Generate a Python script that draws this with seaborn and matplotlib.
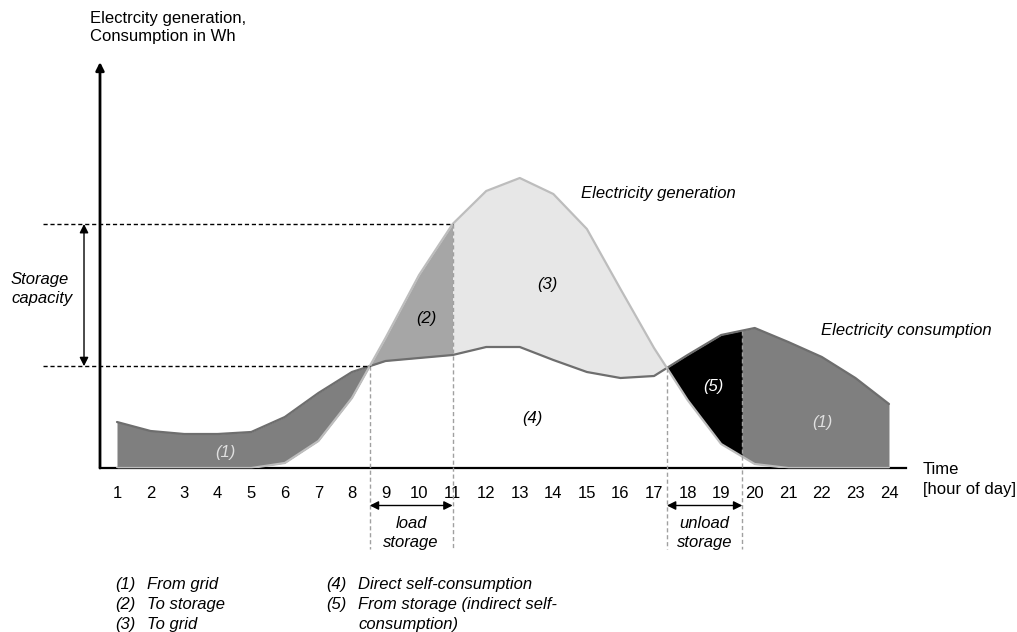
import numpy as np
import pandas as pd
import matplotlib
matplotlib.use("Agg")
import matplotlib.pyplot as plt
import seaborn as sns

# ---------------- data ----------------
hours = list(range(1, 25))
consumption = [4.6, 3.7, 3.4, 3.4, 3.6, 5.1, 7.5, 9.6, 10.7, 11.0, 11.3, 12.1,
               12.1, 10.8, 9.6, 9.0, 9.2, 11.3, 13.3, 14.0, 12.6, 11.1, 9.0, 6.4]
generation = [0, 0, 0, 0, 0, 0.5, 2.7, 7.0, 13.0, 19.3, 24.4, 27.7,
              29.0, 27.4, 23.9, 17.9, 12.0, 6.8, 2.4, 0.4, 0, 0, 0, 0]
load_end_hour = 11          # storage full
storage_empty_hour = 19.63  # storage empty
tick_labels = [str(h) for h in hours]
legend_left = [("(1)", "From grid"), ("(2)", "To storage"), ("(3)", "To grid")]
legend_right = [("(4)", "Direct self-consumption"),
                ("(5)", "From storage (indirect self-\nconsumption)")]

# ---------------- style ----------------
sns.set_theme(style="white")
plt.rcParams["font.family"] = ["Liberation Sans", "DejaVu Sans"]
plt.rcParams["text.color"] = "black"
FS = 12

W, H = 1017, 632
fig = plt.figure(figsize=(W / 100, H / 100), dpi=100)
ax = fig.add_axes([100 / W, (H - 468) / H, 806 / W, 406 / H])
ax.set_xlim(0.4935, 24.507)
ax.set_ylim(0, 40.6)

hrs = np.array(hours, dtype=float)
cons = np.array(consumption)
gen = np.array(generation)

# crossings of generation and consumption
d = gen - cons
cross = []
for i in range(len(hrs) - 1):
    if d[i] * d[i + 1] < 0:
        t = -d[i] / (d[i + 1] - d[i])
        cross.append(hrs[i] + t)
c1, c2 = cross[0], cross[1]


def seg(a, b):
    x = np.array([a] + [h for h in hrs if a < h < b] + [b])
    return x, np.interp(x, hrs, cons), np.interp(x, hrs, gen)


C_GRID = "#7f7f7f"
fills = [
    (1, c1, C_GRID),
    (c1, load_end_hour, "#a6a6a6"),
    (load_end_hour, c2, "#e7e7e7"),
    (c2, storage_empty_hour, "#000000"),
    (storage_empty_hour, 24, C_GRID),
]
for a, b, col in fills:
    x, yc, yg = seg(a, b)
    ax.fill_between(x, yc, yg, color=col, lw=0, zorder=1)

df = pd.DataFrame({
    "hour": hours * 2,
    "value": consumption + generation,
    "series": ["Consumption"] * 24 + ["Generation"] * 24,
})
sns.lineplot(data=df, x="hour", y="value", hue="series",
             palette={"Consumption": "#6e6e6e", "Generation": "#bdbdbd"},
             linewidth=1.6, legend=False, ax=ax, zorder=2)

# axes look
for s in ["top", "right", "left"]:
    ax.spines[s].set_visible(False)
ax.spines["bottom"].set_color("black")
ax.spines["bottom"].set_linewidth(1.6)
ax.spines["bottom"].set_zorder(0.5)
ax.set_xticks(hours)
ax.set_xticklabels(tick_labels, fontsize=FS, color="black")
ax.tick_params(axis="x", length=0, pad=13)
ax.set_yticks([])
ax.set_xlabel("")
ax.set_ylabel("")
ax.annotate("", xy=(0, 1.0), xytext=(0, 0), xycoords="axes fraction",
            textcoords="axes fraction",
            arrowprops=dict(arrowstyle="-|>", color="black", lw=2,
                            mutation_scale=12, shrinkA=0, shrinkB=0))

# vertical dashed helper lines
v_bottom = -8.1
cap_top = float(np.interp(load_end_hour, hrs, gen))
cap_bot = float(np.interp(c1, hrs, cons))
for xv, yt in [(c1, cap_bot), (load_end_hour, cap_top),
               (c2, float(np.interp(c2, hrs, cons))),
               (storage_empty_hour, float(np.interp(storage_empty_hour, hrs, cons)))]:
    ax.plot([xv, xv], [yt, v_bottom], color="#a0a0a0", lw=1,
            ls=(0, (3, 2)), clip_on=False, zorder=3)

# storage capacity lines
x_left = -1.2
ax.plot([x_left, load_end_hour], [cap_top, cap_top], color="black", lw=1,
        ls=(0, (3, 2)), clip_on=False, zorder=3)
ax.plot([x_left, c1], [cap_bot, cap_bot], color="black", lw=1,
        ls=(0, (3, 2)), clip_on=False, zorder=3)
ax.annotate("", xy=(0.017, cap_top), xytext=(0.017, cap_bot),
            arrowprops=dict(arrowstyle="<|-|>", color="black", lw=1,
                            mutation_scale=13, shrinkA=0, shrinkB=0),
            annotation_clip=False)
ax.text(-2.158, 17.9, "Storage\ncapacity", fontsize=FS, style="italic",
        ha="left", va="center", linespacing=1.35)

# load / unload storage arrows
arrow_y = -3.75
for a, b, lab in [(c1, load_end_hour, "load\nstorage"),
                  (c2, storage_empty_hour, "unload\nstorage")]:
    ax.annotate("", xy=(b, arrow_y), xytext=(a, arrow_y),
                arrowprops=dict(arrowstyle="<|-|>", color="black", lw=1,
                                mutation_scale=13, shrinkA=0, shrinkB=0),
                annotation_clip=False)
    ax.text((a + b) / 2, -6.5, lab, fontsize=FS, style="italic",
            ha="center", va="center", linespacing=1.35)

# axis titles
ax.text(0.196, 44.05, "Electrcity generation,\nConsumption in Wh", fontsize=FS,
        ha="left", va="center", linespacing=1.28)
ax.text(25.01, -1.17, "Time\n[hour of day]", fontsize=FS,
        ha="left", va="center", linespacing=1.42)

# curve titles
ax.text(14.83, 27.5, "Electricity generation", fontsize=FS, style="italic",
        ha="left", va="center")
ax.text(21.97, 13.8, "Electricity consumption", fontsize=FS, style="italic",
        ha="left", va="center")

# region labels
for xx, yy, lab, col in [(4.22, 1.6, "(1)", "#e0e0e0"),
                         (10.22, 15.0, "(2)", "black"),
                         (13.82, 18.3, "(3)", "black"),
                         (13.36, 5.0, "(4)", "black"),
                         (18.77, 8.2, "(5)", "white"),
                         (22.0, 4.5, "(1)", "#e0e0e0")]:
    ax.text(xx, yy, lab, fontsize=FS, style="italic", color=col,
            ha="center", va="center", zorder=4)

# legend text
rows = [-11.6, -13.6, -15.6]
for (num, txt), yy in zip(legend_left, rows):
    ax.text(0.94, yy, num, fontsize=FS, style="italic", ha="left", va="center")
    ax.text(1.885, yy, txt, fontsize=FS, style="italic", ha="left", va="center")
r = 0
for num, txt in legend_right:
    ax.text(7.248, rows[r], num, fontsize=FS, style="italic",
            ha="left", va="center")
    for line in txt.split("\n"):
        ax.text(8.189, rows[r], line, fontsize=FS, style="italic",
                ha="left", va="center")
        r += 1

fig.savefig("out.png", dpi=100)
